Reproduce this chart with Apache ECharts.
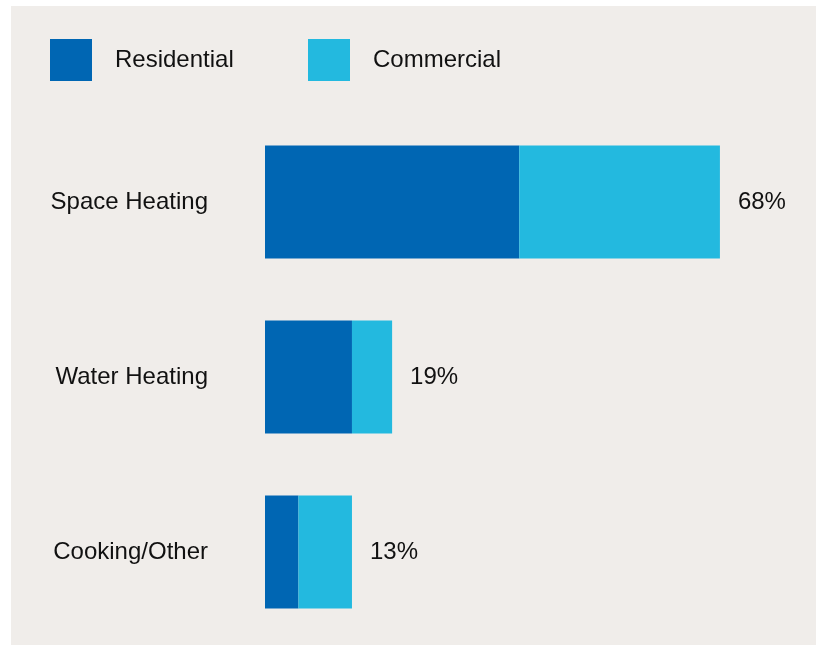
<!DOCTYPE html>
<html>
<head>
<meta charset="utf-8">
<script src="https://cdn.jsdelivr.net/npm/echarts@6/dist/echarts.min.js"></script>
<style>
html,body{margin:0;padding:0;background:#fff;}
#chart{width:816px;height:645px;}
</style>
</head>
<body>
<div id="chart"></div>
<script>
var categories = ['Space Heating', 'Water Heating', 'Cooking/Other'];
var residential = [38, 13, 5];
var commercial = [30, 6, 8];
var totals = [68, 19, 13];
var seriesNames = ['Residential', 'Commercial'];

var FONT = '"Liberation Sans", Arial, sans-serif';
var chart = echarts.init(document.getElementById('chart'));
chart.setOption({
  backgroundColor: '#ffffff',
  animation: false,
  graphic: [{
    type: 'rect', z: -10, silent: true,
    shape: { x: 11, y: 6, width: 805, height: 639 },
    style: { fill: '#f0edea' }
  }],
  legend: [{
    data: [seriesNames[0]], left: 50, top: 39, padding: 0,
    itemWidth: 42, itemHeight: 42, icon: 'rect',
    textStyle: { fontFamily: FONT, fontSize: 24, color: '#111', padding: [6, 0, 0, 18] }
  }, {
    data: [seriesNames[1]], left: 308, top: 39, padding: 0,
    itemWidth: 42, itemHeight: 42, icon: 'rect',
    textStyle: { fontFamily: FONT, fontSize: 24, color: '#111', padding: [6, 0, 0, 18] }
  }],
  grid: { left: 265, top: 114.5, width: 535.2, height: 525 },
  xAxis: { type: 'value', min: 0, max: 80, show: false },
  yAxis: {
    type: 'category', data: categories, inverse: true,
    axisLine: { show: false }, axisTick: { show: false },
    axisLabel: { fontFamily: FONT, fontSize: 24, color: '#111', margin: 57 }
  },
  series: [{
    name: seriesNames[0], type: 'bar', stack: 'total', data: residential,
    barWidth: 113, itemStyle: { color: '#0066b3' }
  }, {
    name: seriesNames[1], type: 'bar', stack: 'total', data: commercial,
    barWidth: 113, itemStyle: { color: '#23b9df' },
    label: {
      show: true, position: 'right', distance: 18,
      fontFamily: FONT, fontSize: 24, color: '#111',
      formatter: function (p) { return totals[p.dataIndex] + '%'; }
    }
  }]
});
</script>
</body>
</html>
